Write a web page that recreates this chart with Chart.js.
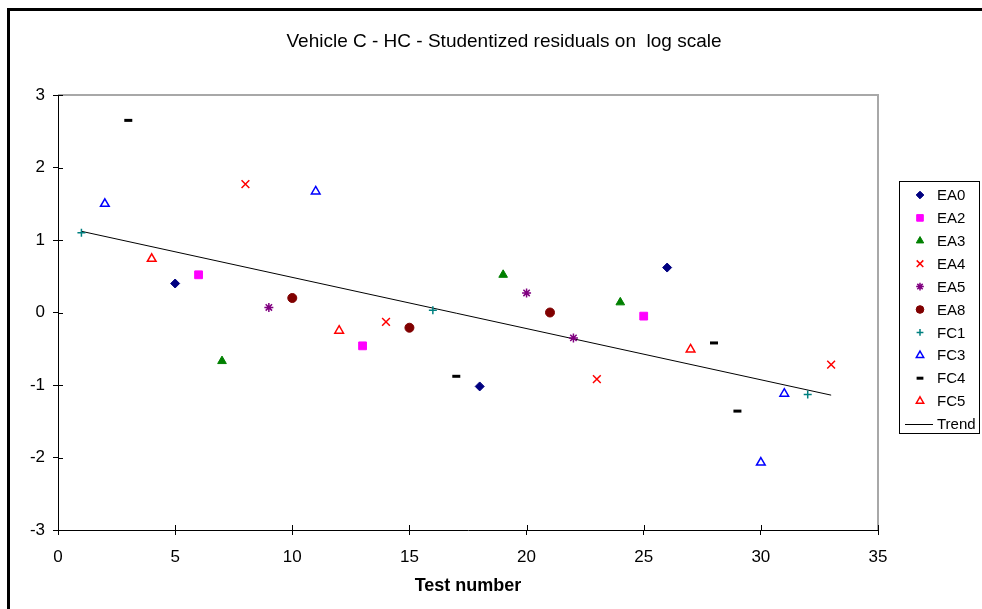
<!DOCTYPE html>
<html>
<head>
<meta charset="utf-8">
<script src="https://cdn.jsdelivr.net/npm/chart.js@4"></script>
<style>
  html, body { margin: 0; padding: 0; background: #fff; overflow: hidden; }
  #wrap { position: relative; width: 982px; height: 609px; }
</style>
</head>
<body>
<div id="wrap"><canvas id="residChart" width="982" height="609"></canvas></div>
<script>
// test numbers and studentized residuals
const ea0Test = [5, 18, 26];
const ea0Res = [0.40, -1.02, 0.62];
const ea2Test = [6, 13, 25];
const ea2Res = [0.52, -0.46, -0.05];
const ea3Test = [7, 19, 24];
const ea3Res = [-0.67, 0.52, 0.14];
const ea4Test = [8, 14, 23, 33];
const ea4Res = [1.77, -0.13, -0.92, -0.72];
const ea5Test = [9, 20, 22];
const ea5Res = [0.07, 0.27, -0.35];
const ea8Test = [10, 15, 21];
const ea8Res = [0.20, -0.21, 0.00];
const fc1Test = [1, 16, 32];
const fc1Res = [1.10, 0.03, -1.13];
const fc3Test = [2, 11, 30, 31];
const fc3Res = [1.50, 1.67, -2.07, -1.12];
const fc4Test = [3, 17, 28, 29];
const fc4Res = [2.65, -0.88, -0.42, -1.36];
const fc5Test = [4, 12, 27];
const fc5Res = [0.74, -0.25, -0.51];
const trendTest = [1, 33];
const trendRes = [1.12, -1.14];

const xTicks = [0, 5, 10, 15, 20, 25, 30, 35];
const yTicks = [-3, -2, -1, 0, 1, 2, 3];

const FONT = 'Arial, "Liberation Sans", sans-serif';

function pts(xs, ys) {
  return xs.map((x, i) => ({ x: x, y: ys[i] }));
}

function markers(label, xs, ys, style, radius, fill, stroke, bw) {
  return {
    label: label,
    data: pts(xs, ys),
    pointStyle: style,
    pointRadius: radius,
    pointHoverRadius: radius,
    backgroundColor: fill,
    borderColor: stroke,
    pointBorderWidth: bw,
    showLine: false
  };
}

const datasets = [
  markers('EA0', ea0Test, ea0Res, 'rectRot', 4.5, '#000080', '#000080', 1),
  markers('EA2', ea2Test, ea2Res, 'rect', 5.5, '#ff00ff', '#ff00ff', 1),
  markers('EA3', ea3Test, ea3Res, 'triangle', 5, '#008000', '#008000', 1),
  markers('EA4', ea4Test, ea4Res, 'crossRot', 5.5, '#ff0000', '#ff0000', 1.5),
  markers('EA5', ea5Test, ea5Res, 'star', 4.5, '#800080', '#800080', 1.5),
  markers('EA8', ea8Test, ea8Res, 'circle', 4.5, '#800000', '#800000', 1),
  markers('FC1', fc1Test, fc1Res, 'cross', 4, '#008080', '#008080', 1.5),
  markers('FC3', fc3Test, fc3Res, 'triangle', 5, '#ffffff', '#0000ff', 1.5),
  markers('FC4', fc4Test, fc4Res, 'line', 4, '#000000', '#000000', 3),
  markers('FC5', fc5Test, fc5Res, 'triangle', 5, '#ffffff', '#ff0000', 1.5),
  {
    label: 'Trend',
    data: pts(trendTest, trendRes),
    showLine: true,
    borderColor: '#000000',
    borderWidth: 1,
    pointRadius: 0,
    fill: false
  }
];

// frame, plot border, inner tick halves, title and boxed legend
const decor = {
  id: 'decor',
  beforeDatasetsDraw(chart) {
    const { ctx, chartArea: a, scales } = chart;
    ctx.save();
    ctx.strokeStyle = '#a8a8a8';
    ctx.lineWidth = 2;
    ctx.beginPath();
    ctx.moveTo(a.left, a.top);
    ctx.lineTo(a.right, a.top);
    ctx.lineTo(a.right, a.bottom);
    ctx.stroke();

    ctx.strokeStyle = '#000';
    ctx.lineWidth = 1;
    ctx.beginPath();
    scales.y.ticks.forEach(t => {
      const py = Math.round(scales.y.getPixelForValue(t.value)) + 0.5;
      ctx.moveTo(a.left, py);
      ctx.lineTo(a.left + 5, py);
    });
    scales.x.ticks.forEach(t => {
      const px = Math.round(scales.x.getPixelForValue(t.value)) + 0.5;
      ctx.moveTo(px, a.bottom);
      ctx.lineTo(px, a.bottom - 5);
    });
    ctx.stroke();
    ctx.restore();
  },
  afterDraw(chart) {
    const { ctx } = chart;
    ctx.save();
    // outer frame (runs off the right and bottom)
    ctx.strokeStyle = '#000';
    ctx.lineWidth = 3;
    ctx.strokeRect(8.5, 9.5, 1000, 700);

    // title
    ctx.fillStyle = '#000';
    ctx.font = '19px ' + FONT;
    ctx.textAlign = 'center';
    ctx.textBaseline = 'middle';
    ctx.fillText('Vehicle C - HC - Studentized residuals on  log scale', 504, 42);

    // legend
    const lx = 899.5, ly = 181.5, lw = 80, lh = 252;
    ctx.lineWidth = 1;
    ctx.strokeStyle = '#000';
    ctx.fillStyle = '#fff';
    ctx.fillRect(lx, ly, lw, lh);
    ctx.strokeRect(lx, ly, lw, lh);
    ctx.font = '15px ' + FONT;
    ctx.textAlign = 'left';
    const step = 22.9;
    chart.data.datasets.forEach((ds, i) => {
      const cy = 195 + i * step;
      if (ds.showLine) {
        ctx.strokeStyle = ds.borderColor;
        ctx.lineWidth = 1;
        ctx.beginPath();
        ctx.moveTo(905, Math.round(cy) + 0.5);
        ctx.lineTo(933, Math.round(cy) + 0.5);
        ctx.stroke();
      } else {
        ctx.fillStyle = ds.backgroundColor;
        ctx.strokeStyle = ds.borderColor;
        ctx.lineWidth = ds.pointBorderWidth;
        Chart.helpers.drawPoint(ctx, {
          pointStyle: ds.pointStyle,
          radius: ds.pointRadius * 0.85,
          borderWidth: ds.pointBorderWidth,
          rotation: 0
        }, 920, cy);
      }
      ctx.fillStyle = '#000';
      ctx.fillText(ds.label, 937, cy + 1);
    });
    ctx.restore();
  }
};

const ctx = document.getElementById('residChart').getContext('2d');
const residChart = new Chart(ctx, {
  type: 'scatter',
  data: { datasets: datasets },
  plugins: [decor],
  options: {
    responsive: false,
    animation: false,
    events: [],
    layout: { padding: { left: 10, right: 104, top: 95, bottom: 0 } },
    plugins: {
      legend: { display: false },
      title: { display: false },
      tooltip: { enabled: false }
    },
    scales: {
      x: {
        type: 'linear',
        min: 0,
        max: 35,
        afterBuildTicks: s => { s.ticks = xTicks.map(v => ({ value: v })); },
        afterFit: s => { s.height = 79; },
        border: { display: true, color: '#000', width: 1 },
        grid: { display: true, drawOnChartArea: false, drawTicks: true, tickLength: 5, color: '#000' },
        ticks: { color: '#000', font: { family: FONT, size: 17 }, padding: 12, maxRotation: 0 },
        title: {
          display: true,
          text: 'Test number',
          color: '#000',
          font: { family: FONT, size: 18, weight: 'bold' },
          padding: { top: 12, bottom: 12 }
        }
      },
      y: {
        type: 'linear',
        min: -3,
        max: 3,
        afterBuildTicks: s => { s.ticks = yTicks.map(v => ({ value: v })); },
        afterFit: s => { s.width = 48; },
        border: { display: true, color: '#000', width: 1 },
        grid: { display: true, drawOnChartArea: false, drawTicks: true, tickLength: 5, color: '#000' },
        ticks: { color: '#000', font: { family: FONT, size: 17 }, padding: 8 }
      }
    }
  }
});
</script>
</body>
</html>
